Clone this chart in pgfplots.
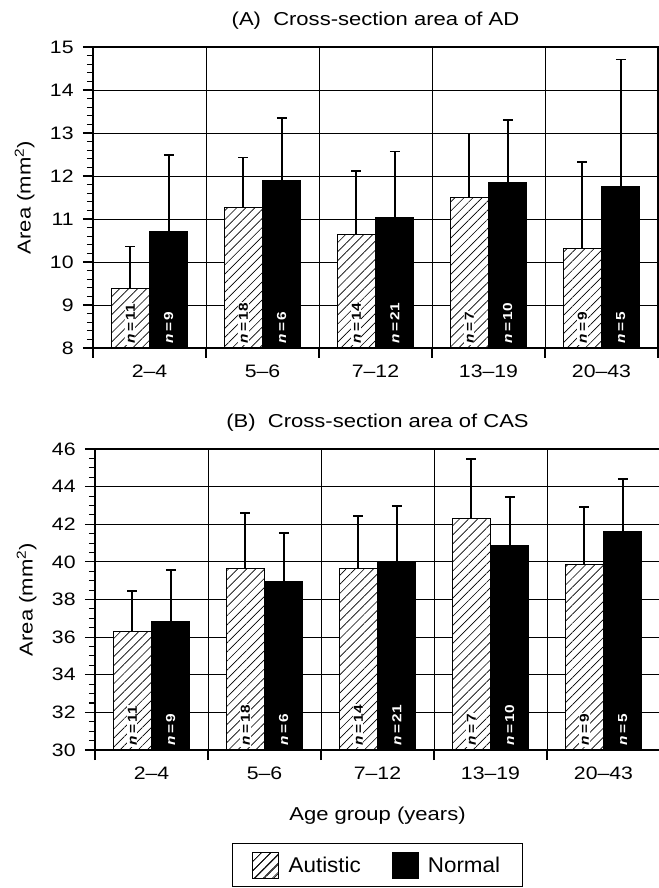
\documentclass[border=0pt]{standalone}
\usepackage{fontspec}
\setmainfont{Liberation Sans}[FakeStretch=1.18]
\newfontfamily\legfont{Liberation Sans}[FakeStretch=1.05]
\usepackage{pgfplots}
\pgfplotsset{compat=1.18}
\usepackage{pgfplotstable}
\usetikzlibrary{patterns.meta}

\newcommand\tk{\fontsize{13.5}{16}\selectfont}
\newcommand\lb{\fontsize{14}{16}\selectfont}
\newcommand\nl{\fontsize{9.8}{11}\selectfont\bfseries}

% xa, xn: bar centres; a, n: means; asd, nsd: error bar heights; na, nn: group sizes
\pgfplotstableread{
xa    a     asd  na xn    n     nsd  nn
-0.17 9.39  0.97 11 0.17  10.70 1.79 9
0.83  11.27 1.16 18 1.17  11.90 1.45 6
1.83  10.64 1.48 14 2.17  11.03 1.54 21
2.83  11.49 1.50 7  3.17  11.85 1.46 10
3.83  10.31 2.02 9  4.17  11.76 2.95 5
}\tabA

\pgfplotstableread{
xa    a     asd  na xn    n     nsd  nn
-0.17 36.29 2.18 11 0.17  36.82 2.75 9
0.83  39.66 2.92 18 1.17  38.98 2.55 6
1.83  39.67 2.77 14 2.17  39.99 2.98 21
2.83  42.33 3.14 7  3.17  40.86 2.60 10
3.83  39.87 3.06 9  4.17  41.59 2.82 5
}\tabB

\pgfplotsset{
  common/.style={
    width=423.75pt, height=225.75pt, scale only axis,
    xmin=-0.5, xmax=4.5,
    xtick={-0.5,0.5,...,4.5}, xticklabels={},
    extra x ticks={0,1,2,3,4},
    extra x tick labels={2--4,5--6,7--12,13--19,20--43},
    extra x tick style={major tick length=0pt, grid=none,
      tick label style={yshift=-9pt}},
    xmajorgrids, ymajorgrids,
    grid style={black, line width=0.6pt},
    axis line style={black, line width=1.1pt},
    tick align=outside, tick pos=left,
    major tick length=7.5pt, minor tick length=4.5pt,
    every tick/.style={black, line width=0.8pt},
    /pgf/number format/assume math mode=true,
    tick label style={font=\tk},
    yticklabel style={xshift=-3.5pt},
    label style={font=\lb},
    title style={font=\lb, anchor=center, yshift=14pt},
    ylabel={Area (mm\textsuperscript{2})},
    ylabel style={at={(axis description cs:-0.121,0.5)}, anchor=center},
  },
  autbar/.style={ybar, bar width=0.34, bar shift=0pt, draw=black, line width=0.8pt,
    fill=white, postaction={pattern={Lines[angle=45,distance=4.8pt,line width=0.5pt]}},
    legend image code/.code={\draw[fill=white, draw=black, line width=0.8pt, postaction={pattern={Lines[angle=45,distance=5pt,line width=0.5pt]}}] (0pt,-9.5pt) rectangle (19.5pt,10pt);}},
  norbar/.style={ybar, bar width=0.34, bar shift=0pt, draw=black, line width=0.8pt,
    fill=black,
    legend image code/.code={\draw[fill=black, draw=black, line width=0.8pt] (0pt,-9.5pt) rectangle (19.5pt,10pt);}},
  errs/.style={forget plot, draw=none, mark=none,
    error bars/.cd, y dir=plus, y explicit, error mark=|,
    error bar style={draw=black, line width=1.3pt, solid},
    error mark options={draw=black, line width=1.3pt, mark size=3.6pt, solid}},
  alab/.style={forget plot, draw=none, mark=none,
    point meta=explicit symbolic,
    nodes near coords={\textit{n}\,=\,\pgfplotspointmeta},
    nodes near coords align={anchor=west},
    every node near coord/.style={rotate=90, font=\nl, fill=white, inner xsep=1pt, inner ysep=0.5pt, outer xsep=2.5pt}},
  nlab/.style={forget plot, draw=none, mark=none,
    point meta=explicit symbolic,
    nodes near coords={\textit{n}\,=\,\pgfplotspointmeta},
    nodes near coords align={anchor=west},
    every node near coord/.style={rotate=90, font=\nl, text=white, inner xsep=1pt, inner ysep=0.5pt, outer xsep=2.5pt}},
}

\begin{document}
\begin{tikzpicture}
\path[use as bounding box] (-69.75pt,-405pt) rectangle (424.5pt,261pt);

\begin{axis}[common,
  at={(0pt,0pt)}, anchor=south west,
  ymin=8, ymax=15, ytick={8,...,15}, minor y tick num=4,
  title={(A)\ \ Cross-section area of AD},
]
\addplot[errs] table[x=xa, y=a, y error=asd] {\tabA};
\addplot[errs] table[x=xn, y=n, y error=nsd] {\tabA};
\addplot[autbar] table[x=xa, y=a] {\tabA};
\addplot[norbar] table[x=xn, y=n] {\tabA};
\addplot[alab] table[x=xa, y expr=8, meta=na] {\tabA};
\addplot[nlab] table[x=xn, y expr=8, meta=nn] {\tabA};
\end{axis}

\begin{axis}[common,
  at={(1.5pt,-301.5pt)}, anchor=south west,
  ymin=30, ymax=46, ytick={30,32,...,46}, minor y tick num=3,
  title={(B)\ \ Cross-section area of CAS},
  xlabel={Age group (years)},
  xlabel style={at={(axis description cs:0.5,0)}, anchor=center, yshift=-49pt},
  legend style={at={(axis description cs:0.5,0)}, anchor=north, yshift=-70pt,
    draw=black, line width=0.8pt, legend columns=2,
    font=\legfont\fontsize{16}{18}\selectfont,
    inner xsep=15pt, inner ysep=6pt,
    /tikz/every odd column/.append style={column sep=5pt},
    /tikz/every even column/.append style={column sep=21pt}},
]
\addplot[errs] table[x=xa, y=a, y error=asd] {\tabB};
\addplot[errs] table[x=xn, y=n, y error=nsd] {\tabB};
\addplot[autbar] table[x=xa, y=a] {\tabB};
\addlegendentry{Autistic}
\addplot[norbar] table[x=xn, y=n] {\tabB};
\addlegendentry{Normal}
\addplot[alab] table[x=xa, y expr=30, meta=na] {\tabB};
\addplot[nlab] table[x=xn, y expr=30, meta=nn] {\tabB};
\end{axis}
\end{tikzpicture}
\end{document}
